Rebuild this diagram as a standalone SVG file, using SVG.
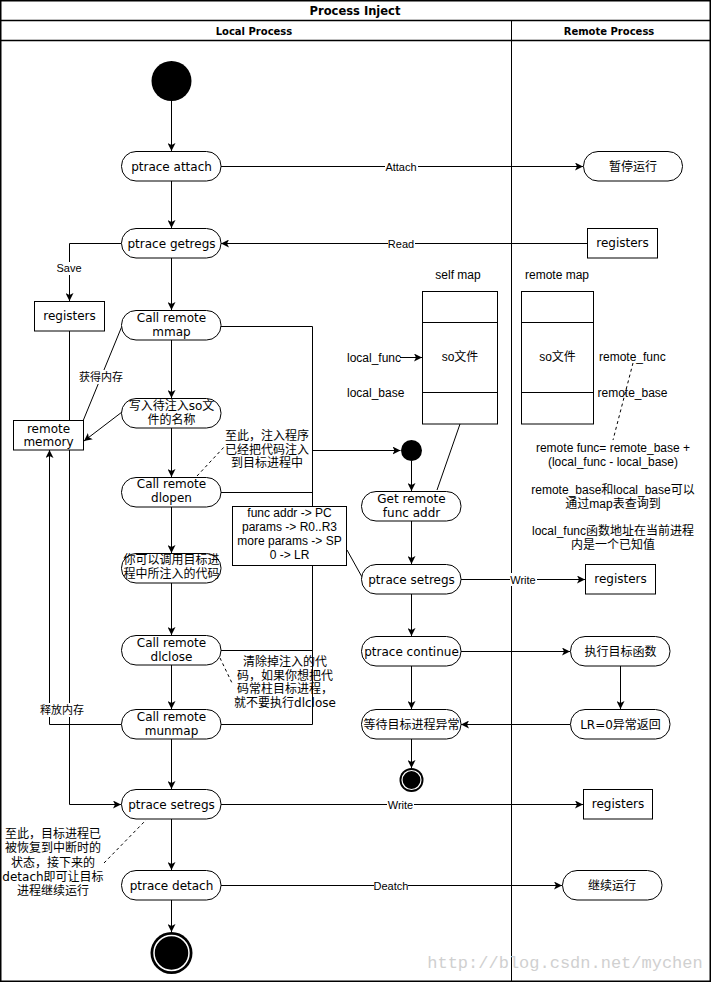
<svg xmlns="http://www.w3.org/2000/svg" width="711" height="982" viewBox="0 0 711 982">
<style>
.frame{fill:none;stroke:#000;stroke-width:1.5}
.ln{fill:none;stroke:#000;stroke-width:1}
.arr{fill:none;stroke:#000;stroke-width:1;marker-end:url(#ah)}
.dash{fill:none;stroke:#000;stroke-width:1;stroke-dasharray:3,3}
.node{fill:#fff;stroke:#000;stroke-width:1}
.t{font-family:"DejaVu Sans","Noto Sans CJK SC",sans-serif;font-size:12px;fill:#000;text-anchor:middle;dominant-baseline:central}
.a{font-family:"Liberation Sans","Noto Sans CJK SC",sans-serif;font-size:12px;fill:#000;text-anchor:middle;dominant-baseline:central}
.al{font-family:"Liberation Sans","Noto Sans CJK SC",sans-serif;font-size:12px;fill:#000;text-anchor:start;dominant-baseline:central}
.el{font-family:"Liberation Sans","Noto Sans CJK SC",sans-serif;font-size:11px;fill:#000;text-anchor:middle;dominant-baseline:central}
.h{font-family:"DejaVu Sans",sans-serif;font-weight:bold;fill:#000;text-anchor:middle;dominant-baseline:central}
.lbg{fill:#fff}
</style>
<defs>
<marker id="ah" viewBox="0 0 10 10" refX="10" refY="5" markerWidth="8" markerHeight="8" markerUnits="userSpaceOnUse" orient="auto">
<path d="M0,0 L10,5 L0,10 L2.5,5 z" fill="#000"/>
</marker>
</defs>
<rect x="0" y="0" width="711" height="982" fill="#fff"/>

<g id="lanes">
<rect class="frame" x="0.75" y="0.75" width="709.5" height="980.5"/>
<line class="frame" x1="0" y1="20.5" x2="711" y2="20.5"/>
<line class="frame" x1="0" y1="40.5" x2="711" y2="40.5"/>
<line class="ln" x1="511.5" y1="20" x2="511.5" y2="981"/>
<text class="h" x="355" y="11" font-size="11.5">Process Inject</text>
<text class="h" x="254" y="31" font-size="10">Local Process</text>
<text class="h" x="609" y="31" font-size="10">Remote Process</text>
</g>

<text x="565" y="963" font-family="Liberation Mono, monospace" font-size="17" fill="#d0d0d0" text-anchor="middle" dominant-baseline="central">http://blog.csdn.net/mychen</text>

<g id="connectors">
<line class="arr" x1="171.5" y1="101" x2="171.5" y2="151"/>
<line class="arr" x1="171.5" y1="181" x2="171.5" y2="228"/>
<line class="arr" x1="221" y1="166.5" x2="583" y2="166.5"/>
<line class="arr" x1="587" y1="243.5" x2="221" y2="243.5"/>
<polyline class="arr" points="121,243.5 69.5,243.5 69.5,301"/>
<line class="arr" x1="171.5" y1="258" x2="171.5" y2="310"/>
<line class="arr" x1="171.5" y1="340" x2="171.5" y2="398"/>
<line class="arr" x1="171.5" y1="428" x2="171.5" y2="477"/>
<line class="arr" x1="171.5" y1="507" x2="171.5" y2="553"/>
<line class="arr" x1="171.5" y1="583" x2="171.5" y2="635"/>
<line class="arr" x1="171.5" y1="665" x2="171.5" y2="709"/>
<line class="arr" x1="171.5" y1="739" x2="171.5" y2="789"/>
<line class="arr" x1="171.5" y1="819" x2="171.5" y2="870"/>
<line class="arr" x1="171.5" y1="900" x2="171.5" y2="932"/>
<line class="ln" x1="122" y1="326" x2="83" y2="421"/>
<line class="arr" x1="122" y1="412" x2="84" y2="441"/>
<polyline class="arr" points="69.5,331 69.5,804.5 121,804.5"/>
<polyline class="arr" points="121,724.5 49.5,724.5 49.5,450"/>
<polyline class="ln" points="221,326.5 312.5,326.5 312.5,724.5 221,724.5"/>
<line class="ln" x1="221" y1="492.5" x2="312.5" y2="492.5"/>
<line class="ln" x1="221" y1="650.5" x2="312.5" y2="650.5"/>
<line class="arr" x1="312.5" y1="450.5" x2="400.5" y2="450.5"/>
<line class="arr" x1="411.5" y1="461" x2="411.5" y2="491"/>
<line class="arr" x1="411.5" y1="521" x2="411.5" y2="564"/>
<line class="arr" x1="461" y1="579.5" x2="585" y2="579.5"/>
<line class="arr" x1="411.5" y1="594" x2="411.5" y2="636"/>
<line class="arr" x1="461" y1="651.5" x2="570" y2="651.5"/>
<line class="arr" x1="620.5" y1="666" x2="620.5" y2="709"/>
<line class="arr" x1="570" y1="724.5" x2="461" y2="724.5"/>
<line class="arr" x1="411.5" y1="666" x2="411.5" y2="709"/>
<line class="arr" x1="411.5" y1="739" x2="411.5" y2="768"/>
<line class="arr" x1="221" y1="804.5" x2="583" y2="804.5"/>
<line class="arr" x1="221" y1="885.5" x2="562" y2="885.5"/>
<line class="arr" x1="400" y1="357.5" x2="422" y2="357.5"/>
<line class="ln" x1="437" y1="490" x2="460" y2="424"/>
<line class="ln" x1="347" y1="550" x2="362" y2="577"/>
<line class="dash" x1="197" y1="476" x2="225" y2="446"/>
<line class="dash" x1="220" y1="658" x2="232" y2="683"/>
<line class="dash" x1="104" y1="863" x2="146" y2="820"/>
<line class="dash" x1="633" y1="363" x2="613" y2="440"/>
<rect class="lbg" x="385" y="160" width="33" height="13"/>
<text class="el" x="401" y="166.5">Attach</text>
<rect class="lbg" x="388" y="237" width="27" height="13"/>
<text class="el" x="401" y="243.5">Read</text>
<rect class="lbg" x="56" y="262" width="27" height="13"/>
<text class="el" x="69" y="268">Save</text>
<rect class="lbg" x="78" y="370" width="46" height="14"/>
<text class="el" x="101" y="377">获得内存</text>
<rect class="lbg" x="38" y="703" width="48" height="14"/>
<text class="el" x="62" y="710">释放内存</text>
<rect class="lbg" x="510" y="573" width="27" height="13"/>
<text class="el" x="523" y="580">Write</text>
<rect class="lbg" x="387" y="798" width="27" height="13"/>
<text class="el" x="400.5" y="804.5">Write</text>
<rect class="lbg" x="374" y="879" width="34" height="13"/>
<text class="el" x="391" y="885.5">Deatch</text>
</g>

<g id="start"><circle cx="171.5" cy="81" r="20" fill="#000"/></g>
<g id="attach"><rect class="node" x="121.5" y="151.5" width="99.5" height="29.5" rx="14.5"/><text class="t" x="171.5" y="166.5">ptrace attach</text></g>
<g id="pause"><rect class="node" x="583.5" y="151.5" width="99" height="29.5" rx="14.5"/><text class="t" x="633" y="166.5">暂停运行</text></g>
<g id="getregs"><rect class="node" x="121.5" y="228.5" width="99.5" height="29.5" rx="14.5"/><text class="t" x="171.5" y="243.5">ptrace getregs</text></g>
<g id="regs-read"><rect class="node" x="587.5" y="228.5" width="70" height="29.5"/><text class="t" x="622.5" y="243">registers</text></g>
<g id="regs-local"><rect class="node" x="34.5" y="301.5" width="70" height="29.5"/><text class="t" x="69.5" y="316">registers</text></g>
<g id="mmap"><rect class="node" x="121.5" y="310.5" width="99.5" height="29.5" rx="14.5"/><text class="t" x="171.5" y="318">Call remote</text><text class="t" x="171.5" y="332">mmap</text></g>
<g id="write-name"><rect class="node" x="121.5" y="398.5" width="99.5" height="29.5" rx="14.5"/><text class="t" x="171.5" y="405.5">写入待注入so文</text><text class="t" x="171.5" y="419.5">件的名称</text></g>
<g id="remote-memory"><rect class="node" x="13.5" y="420.5" width="70" height="29.5"/><text class="t" x="48.5" y="428.5">remote</text><text class="t" x="48.5" y="442">memory</text></g>
<g id="dlopen"><rect class="node" x="121.5" y="477.5" width="99.5" height="29.5" rx="14.5"/><text class="t" x="171.5" y="484">Call remote</text><text class="t" x="171.5" y="498">dlopen</text></g>
<g id="call-code"><rect class="node" x="121.5" y="553.5" width="99.5" height="29.5" rx="14.5"/><text class="t" x="171.5" y="560">你可以调用目标进</text><text class="t" x="171.5" y="574">程中所注入的代码</text></g>
<g id="dlclose"><rect class="node" x="121.5" y="635.5" width="99.5" height="29.5" rx="14.5"/><text class="t" x="171.5" y="643">Call remote</text><text class="t" x="171.5" y="657">dlclose</text></g>
<g id="munmap"><rect class="node" x="121.5" y="709.5" width="99.5" height="29.5" rx="14.5"/><text class="t" x="171.5" y="717">Call remote</text><text class="t" x="171.5" y="731">munmap</text></g>
<g id="setregs-final"><rect class="node" x="121.5" y="789.5" width="99.5" height="29.5" rx="14.5"/><text class="t" x="171.5" y="804.5">ptrace setregs</text></g>
<g id="regs-final"><rect class="node" x="583.5" y="789.5" width="69" height="29.5"/><text class="t" x="618" y="804">registers</text></g>
<g id="detach"><rect class="node" x="121.5" y="870.5" width="99.5" height="29.5" rx="14.5"/><text class="t" x="171.5" y="885.5">ptrace detach</text></g>
<g id="continue-run"><rect class="node" x="562.5" y="870.5" width="99.5" height="29.5" rx="14.5"/><text class="t" x="612" y="885.5">继续运行</text></g>
<g id="end"><circle cx="171.5" cy="953" r="21" fill="#000"/><circle cx="171.5" cy="953" r="17.5" fill="none" stroke="#fff" stroke-width="1.5"/></g>

<g id="join"><circle cx="411.5" cy="450.5" r="10.5" fill="#000"/></g>
<g id="get-func"><rect class="node" x="361.5" y="491.5" width="99.5" height="29.5" rx="14.5"/><text class="t" x="411.5" y="499">Get remote</text><text class="t" x="411.5" y="513">func addr</text></g>
<g id="reg-note"><rect class="node" x="232.5" y="506.5" width="114" height="59"/><text class="a" x="289.5" y="513">func addr -&gt; PC</text><text class="a" x="289.5" y="527">params -&gt; R0..R3</text><text class="a" x="289.5" y="541">more params -&gt; SP</text><text class="a" x="289.5" y="555">0 -&gt; LR</text></g>
<g id="setregs-mid"><rect class="node" x="361.5" y="564.5" width="99.5" height="29.5" rx="14.5"/><text class="t" x="411.5" y="579.5">ptrace setregs</text></g>
<g id="regs-write"><rect class="node" x="585.5" y="564.5" width="70" height="29.5"/><text class="t" x="620.5" y="579">registers</text></g>
<g id="ptrace-continue"><rect class="node" x="361.5" y="636.5" width="99.5" height="29.5" rx="14.5"/><text class="t" x="411.5" y="651.5">ptrace continue</text></g>
<g id="exec-func"><rect class="node" x="570.5" y="636.5" width="99.5" height="29.5" rx="14.5"/><text class="t" x="620.5" y="651.5">执行目标函数</text></g>
<g id="wait"><rect class="node" x="361.5" y="709.5" width="99.5" height="29.5" rx="14.5"/><text class="t" x="411.5" y="724.5">等待目标进程异常</text></g>
<g id="lr-return"><rect class="node" x="570.5" y="709.5" width="99.5" height="29.5" rx="14.5"/><text class="t" x="620.5" y="724.5">LR=0异常返回</text></g>
<g id="end-small"><circle cx="411.5" cy="780" r="12" fill="#000"/><circle cx="411.5" cy="780" r="9.5" fill="none" stroke="#fff" stroke-width="1.2"/></g>

<g id="self-map">
<text class="a" x="458" y="275">self map</text>
<rect class="node" x="422.5" y="291.5" width="75" height="132.5"/>
<line class="ln" x1="422.5" y1="322.5" x2="497.5" y2="322.5"/>
<line class="ln" x1="422.5" y1="392.5" x2="497.5" y2="392.5"/>
<text class="a" x="460" y="357">so文件</text>
<text class="al" x="347" y="357.5">local_func</text>
<text class="al" x="347" y="393">local_base</text>
</g>
<g id="remote-map">
<text class="a" x="557" y="275">remote map</text>
<rect class="node" x="521.5" y="291.5" width="72" height="132.5"/>
<line class="ln" x1="521.5" y1="322.5" x2="593.5" y2="322.5"/>
<line class="ln" x1="521.5" y1="392.5" x2="593.5" y2="392.5"/>
<text class="a" x="557.5" y="357">so文件</text>
<text class="al" x="599" y="357">remote_func</text>
<text class="al" x="597.5" y="393">remote_base</text>
</g>

<g id="notes">
<text class="t" x="267" y="436">至此，注入程序</text>
<text class="t" x="267" y="449.5">已经把代码注入</text>
<text class="t" x="267" y="463">到目标进程中</text>
<text class="t" x="285" y="662">清除掉注入的代</text>
<text class="t" x="285" y="675.5">码，如果你想把代</text>
<text class="t" x="285" y="689">码常柱目标进程，</text>
<text class="t" x="285" y="703">就不要执行dlclose</text>
<text class="t" x="53" y="834">至此，目标进程已</text>
<text class="t" x="53" y="848">被恢复到中断时的</text>
<text class="t" x="53" y="862.5">状态，接下来的</text>
<text class="t" x="53" y="877">detach即可让目标</text>
<text class="t" x="53" y="891">进程继续运行</text>
<text class="a" x="613" y="448">remote func= remote_base +</text>
<text class="a" x="613" y="462">(local_func - local_base)</text>
<text class="a" x="613" y="489.5">remote_base和local_base可以</text>
<text class="a" x="613" y="503.5">通过map表查询到</text>
<text class="a" x="613" y="531">local_func函数地址在当前进程</text>
<text class="a" x="613" y="545">内是一个已知值</text>
</g>
</svg>
